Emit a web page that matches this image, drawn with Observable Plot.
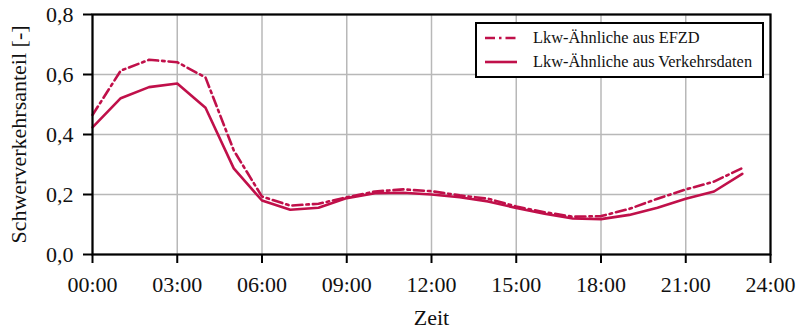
<!DOCTYPE html>
<html>
<head>
<meta charset="utf-8">
<script src="https://cdn.jsdelivr.net/npm/d3@7"></script>
<script src="https://cdn.jsdelivr.net/npm/@observablehq/plot@0.6"></script>
</head>
<body style="margin:0;padding:0;background:#fff">
<div id="wrap" style="position:relative;width:802px;height:329px;font-family:'Liberation Serif'"></div>
<script>
const hours = d3.range(0, 24);
const efzd = [0.465, 0.613, 0.649, 0.641, 0.59, 0.347, 0.193, 0.163, 0.169, 0.191, 0.21, 0.217, 0.211, 0.197, 0.186, 0.16, 0.141, 0.126, 0.128, 0.152, 0.186, 0.217, 0.243, 0.288];
const verkehr = [0.424, 0.521, 0.558, 0.57, 0.489, 0.287, 0.18, 0.149, 0.156, 0.188, 0.204, 0.206, 0.2, 0.191, 0.177, 0.155, 0.136, 0.12, 0.118, 0.132, 0.156, 0.186, 0.21, 0.269];
const seriesNames = ["Lkw-Ähnliche aus EFZD", "Lkw-Ähnliche aus Verkehrsdaten"];
const xTicks = [0, 3, 6, 9, 12, 15, 18, 21, 24];
const yTicks = [0, 0.2, 0.4, 0.6, 0.8];
const color = "#c0104a";
const serif = "Liberation Serif";

const dataA = hours.map((h, i) => ({h, v: efzd[i]}));
const dataB = hours.map((h, i) => ({h, v: verkehr[i]}));

const fmtX = h => String(h).padStart(2, "0") + ":00";
const fmtY = v => v.toFixed(1).replace(".", ",");

const chart = Plot.plot({
  width: 802,
  height: 329,
  marginLeft: 92,
  marginRight: 32,
  marginTop: 14,
  marginBottom: 75,
  style: { fontFamily: "'Liberation Serif'", fontSize: "21px", color: "#111", background: "#fff" },
  x: { domain: [0, 24] },
  y: { domain: [0, 0.8] },
  marks: [
    Plot.gridX(xTicks, { stroke: "#b8b8b8", strokeOpacity: 1, strokeWidth: 1.5 }),
    Plot.gridY(yTicks, { stroke: "#b8b8b8", strokeOpacity: 1, strokeWidth: 1.5 }),
    Plot.line(dataA, { x: "h", y: "v", stroke: color, strokeWidth: 2.6, strokeDasharray: "10,4,2.5,4" }),
    Plot.line(dataB, { x: "h", y: "v", stroke: color, strokeWidth: 2.6 }),
    Plot.frame({ stroke: "#000", strokeWidth: 2.2 }),
    Plot.axisX(xTicks, { tickFormat: fmtX, tickSize: 9, tickPadding: 13, strokeWidth: 2, stroke: "#000", fontSize: 22, fontFamily: serif,
      label: "Zeit", labelAnchor: "center", labelArrow: "none", labelOffset: 70 }),
    Plot.axisY(yTicks, { tickFormat: fmtY, tickSize: 9, tickPadding: 10, strokeWidth: 2, stroke: "#000", fontSize: 22, fontFamily: serif,
      label: "Schwerverkehrsanteil [-]", labelAnchor: "center", labelArrow: "none", labelOffset: 82 })
  ]
});

const wrap = document.getElementById("wrap");
wrap.appendChild(chart);
chart.querySelectorAll("text").forEach(t => t.setAttribute("font-family", serif));

const legend = document.createElement("div");
legend.setAttribute("style", "position:absolute;left:475px;top:22px;width:289px;height:56px;border:2px solid #000;background:#fff;box-sizing:border-box;");
const dashes = ["10,4,2.5,4", null];
seriesNames.forEach((name, i) => {
  const it = document.createElement("div");
  it.setAttribute("style", `position:absolute;left:7px;top:${4 + i * 24}px;height:20px;display:flex;align-items:center;font-family:'Liberation Serif';font-size:16.4px;color:#111;white-space:nowrap;`);
  it.innerHTML = `<svg width="34" height="10" style="margin-right:15px"><line x1="1" y1="5" x2="33" y2="5" stroke="${color}" stroke-width="2.6" ${dashes[i] ? `stroke-dasharray="${dashes[i]}"` : ""}/></svg><span style="font-family:'Liberation Serif'">${name}</span>`;
  legend.appendChild(it);
});
wrap.appendChild(legend);
</script>
</body>
</html>
